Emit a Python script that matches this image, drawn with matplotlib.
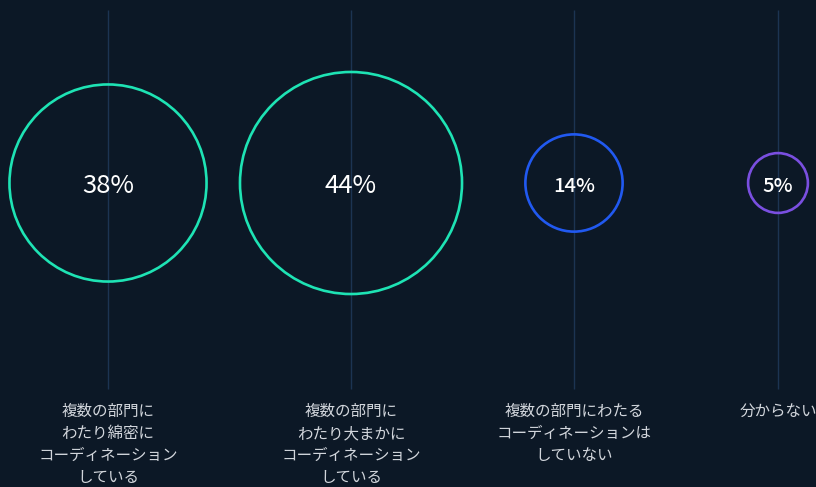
import matplotlib
matplotlib.use("Agg")
import matplotlib.pyplot as plt
from matplotlib.patches import Circle

plt.rcParams['font.family'] = ['Noto Sans CJK JP', 'DejaVu Sans']

# Survey answers and their shares (%)
categories = [
    "複数の部門に\nわたり綿密に\nコーディネーション\nしている",
    "複数の部門に\nわたり大まかに\nコーディネーション\nしている",
    "複数の部門にわたる\nコーディネーションは\nしていない",
    "分からない",
]
shares = [38, 44, 14, 5]
ring_colors = ["#1ee3b4", "#1ee3b4", "#2159f0", "#7a4fe0"]

# Layout (pixel coordinates of the canvas)
W, H = 816, 487
column_x = [108, 351, 574, 778]
center_y = 183
BG = "#0c1826"

def radius(v):
    # linear size scale for the rings
    return 20.7 + 2.08 * v

fig = plt.figure(figsize=(W / 100, H / 100), dpi=100, facecolor=BG)
ax = fig.add_axes([0, 0, 1, 1])
ax.set_facecolor(BG)
ax.set_xlim(0, W)
ax.set_ylim(H, 0)
ax.set_aspect("equal")
ax.axis("off")

ax.vlines(column_x, 10, 389, color="#1c3452", linewidth=1.0, zorder=1)

for x, v, c, lab in zip(column_x, shares, ring_colors, categories):
    r = radius(v) - 1.2
    ax.add_patch(Circle((x, center_y), r, facecolor="none", edgecolor=c,
                        linewidth=1.9, zorder=3))
    big = r > 80
    ax.text(x, center_y + 3, f"{v}%", ha="center", va="center",
            color="white", fontsize=18.5 if big else 14.5,
            fontweight="normal" if big else "medium", zorder=4)
    ax.text(x, 403, lab, ha="center", va="top", color="#d2d6dc",
            fontsize=11.2, linespacing=1.38, zorder=4)

fig.savefig("out.png", dpi=100, facecolor=BG)
